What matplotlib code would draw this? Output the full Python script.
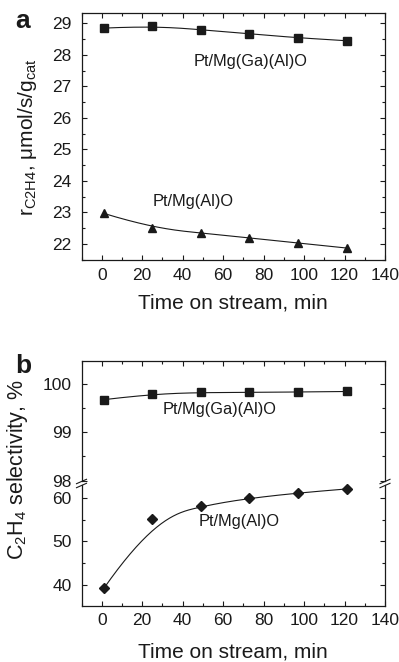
import numpy as np
import matplotlib
matplotlib.use("Agg")
import matplotlib.pyplot as plt
from matplotlib.ticker import MultipleLocator
from matplotlib.lines import Line2D

plt.rcParams['font.family'] = ['Liberation Sans', 'DejaVu Sans']
plt.rcParams['mathtext.default'] = 'regular'

# ---------------- data ----------------
time_min = [1, 25, 49, 73, 97, 121]
rate_ga = [28.85, 28.92, 28.80, 28.67, 28.54, 28.45]
rate_al = [22.97, 22.50, 22.35, 22.19, 22.03, 21.87]
sel_ga = [99.68, 99.80, 99.83, 99.83, 99.84, 99.85]
sel_al = [39.2, 55.1, 58.1, 59.9, 61.1, 62.0]
label_ga = "Pt/Mg(Ga)(Al)O"
label_al = "Pt/Mg(Al)O"

C = '#1a1a1a'
W, H = 399, 662


def bspline(cx, cy, num=300):
    P = np.column_stack([cx, cy]).astype(float)
    m = len(P)
    k = 3
    knots = np.r_[np.zeros(k), np.arange(m - k + 1), np.full(k, m - k)].astype(float)
    t = np.linspace(0, m - k, num)
    t[-1] -= 1e-9

    def N(i, p):
        if p == 0:
            return ((knots[i] <= t) & (t < knots[i + 1])).astype(float)
        out = np.zeros_like(t)
        d1 = knots[i + p] - knots[i]
        if d1 > 0:
            out += (t - knots[i]) / d1 * N(i, p - 1)
        d2 = knots[i + p + 1] - knots[i + 1]
        if d2 > 0:
            out += (knots[i + p + 1] - t) / d2 * N(i + 1, p - 1)
        return out

    B = np.array([N(i, k) for i in range(m)])
    c = B.T @ P
    return c[:, 0], c[:, 1]


def rect(left, top, right, bottom):
    return [left / W, 1 - bottom / H, (right - left) / W, (bottom - top) / H]


fig = plt.figure(figsize=(W / 100, H / 100), dpi=100)

L, R = 81.5, 385.0


def style(ax, ymaj, ymin):
    ax.set_xlim(-10, 140)
    ax.xaxis.set_major_locator(MultipleLocator(20))
    ax.xaxis.set_minor_locator(MultipleLocator(10))
    ax.yaxis.set_major_locator(MultipleLocator(ymaj))
    ax.yaxis.set_minor_locator(MultipleLocator(ymin))
    ax.tick_params(which='both', direction='in', top=True, right=True,
                   colors=C, labelsize=12.5, width=0.8)
    ax.tick_params(axis='y', pad=7)
    ax.tick_params(axis='x', pad=5.5)
    ax.tick_params(which='major', length=3.5)
    ax.tick_params(which='minor', length=2)
    for s in ax.spines.values():
        s.set_color(C)
        s.set_linewidth(0.9)


# ---------------- panel a ----------------
axa = fig.add_axes(rect(L, 13, R, 260))
style(axa, 1, 0.5)
axa.set_ylim(21.49, 29.33)
xs, ys = bspline(time_min, rate_ga)
axa.plot(xs, ys, color=C, lw=0.8)
axa.plot(time_min, rate_ga, 's', color=C, ms=5.2, ls='none')
xs, ys = bspline(time_min, rate_al)
axa.plot(xs, ys, color=C, lw=0.8)
axa.plot(time_min, rate_al, '^', color=C, ms=6, ls='none')
axa.text(45.3, 27.78, label_ga, fontsize=11.8, color=C, ha='left', va='center')
axa.text(25.1, 23.35, label_al, fontsize=11.8, color=C, ha='left', va='center')

fig.text(15 / W, 1 - 28 / H, 'a', fontsize=19, fontweight='bold', color=C,
         ha='left', va='baseline')
fig.text(28 / W, 1 - 137 / H, r'r$_{C2H4}$, $\mu$mol/s/g$_{cat}$', fontsize=15,
         color=C, rotation=90, ha='center', va='center')
fig.text((L + R) / 2 / W, 1 - 303 / H, 'Time on stream, min', fontsize=15,
         color=C, ha='center', va='center')

# ---------------- panel b ----------------
axt = fig.add_axes(rect(L, 360.7, R, 481))
axb = fig.add_axes(rect(L, 485.5, R, 605.7))
style(axt, 1, 0.5)
style(axb, 10, 5)
axt.set_ylim(97.99, 100.49)
axb.set_ylim(35.26, 62.79)
axt.spines['bottom'].set_visible(False)
axb.spines['top'].set_visible(False)
axt.tick_params(which='both', bottom=False, labelbottom=False)
axb.tick_params(which='both', top=False)

xs, ys = bspline(time_min, sel_ga)
axt.plot(xs, ys, color=C, lw=0.8)
axt.plot(time_min, sel_ga, 's', color=C, ms=5.2, ls='none', clip_on=False)
xs, ys = bspline(time_min, sel_al)
axb.plot(xs, ys, color=C, lw=0.8)
axb.plot(time_min, sel_al, 'D', color=C, ms=5, ls='none', clip_on=False)
axt.text(30.0, 99.47, label_ga, fontsize=11.8, color=C, ha='left', va='center')
axb.text(47.8, 54.5, label_al, fontsize=11.8, color=C, ha='left', va='center')

# break marks
for xc in (L, R):
    for yc in (481.5, 485.5):
        fig.add_artist(Line2D([(xc - 5) / W, (xc + 5) / W],
                              [1 - (yc + 2.2) / H, 1 - (yc - 2.2) / H],
                              color=C, lw=0.8, transform=fig.transFigure))

fig.text(15 / W, 1 - 373 / H, 'b', fontsize=19, fontweight='bold', color=C,
         ha='left', va='baseline')
fig.text(18 / W, 1 - 470 / H, r'C$_2$H$_4$ selectivity, %', fontsize=15.5,
         color=C, rotation=90, ha='center', va='center')
fig.text((L + R) / 2 / W, 1 - 651.7 / H, 'Time on stream, min', fontsize=15,
         color=C, ha='center', va='center')

fig.savefig('out.png', dpi=100)
